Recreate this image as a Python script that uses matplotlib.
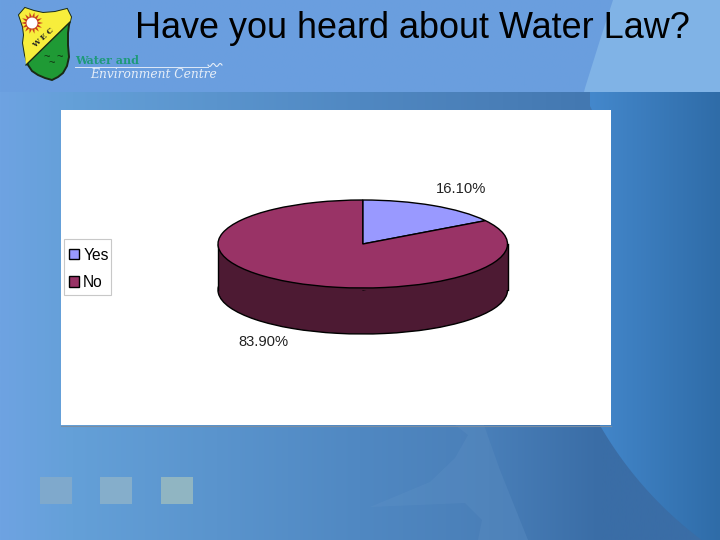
import numpy as np
import matplotlib
matplotlib.use("Agg")
import matplotlib.pyplot as plt
from matplotlib.colors import LinearSegmentedColormap
from matplotlib.patches import Circle, Polygon, Rectangle

plt.rcParams['font.family'] = ['Liberation Sans', 'DejaVu Sans']

titulo = "Have you heard about Water Law?"
respostas = ["Yes", "No"]
percentuais = [16.10, 83.90]
cores = ["#9999ff", "#993366"]

fig = plt.figure(figsize=(7.2, 5.4), dpi=100)

# fundo em coordenadas de pixel
fundo = fig.add_axes([0, 0, 1, 1])
fundo.axis("off")

gx = np.linspace(0, 1, 256).reshape(1, -1)
cmap_baixo = LinearSegmentedColormap.from_list(
    "b", [(0, "#6ea3e2"), (0.1, "#64a0d8"), (0.5, "#5088c2"), (0.68, "#4a7fb8"), (1, "#3a6fa8")])
cmap_escuro = LinearSegmentedColormap.from_list("e", ["#4a80ba", "#3a6da6", "#3a6da6"])
cmap_disco = LinearSegmentedColormap.from_list("d", ["#4488cc", "#2f6ca8"])
cmap_cima = LinearSegmentedColormap.from_list("c", ["#6a9fe0", "#6a9ede"])

fundo.imshow(gx, extent=[0, 720, 540, 92], aspect="auto", cmap=cmap_baixo, zorder=0)

# regiao escura a direita da curva do rodape
escuro = Polygon([(540, 110), (484, 425), (500, 470), (528, 540), (720, 540), (720, 110)],
                 transform=fundo.transData)
img_e = fundo.imshow(gx, extent=[480, 720, 540, 92], aspect="auto", cmap=cmap_escuro, zorder=1)
img_e.set_clip_path(escuro)

# forma clara no rodape
fundo.add_patch(Polygon([(370, 507), (430, 482), (455, 458), (468, 435), (455, 425), (484, 425),
                         (500, 470), (528, 540), (478, 540), (482, 520), (465, 503)],
                        fc="#6a9acb", ec="none", alpha=0.2, zorder=1.5))

# disco claro da direita
ys = np.linspace(420, 540, 25)
xs_arco = 930 - np.sqrt(381 ** 2 - (ys - 235) ** 2)
disco = Polygon([(583, 92), (592, 110), (600, 200)] + list(zip(xs_arco, ys)) + [(720, 540), (720, 92)],
                transform=fundo.transData)
img_d = fundo.imshow(gx, extent=[590, 720, 540, 92], aspect="auto", cmap=cmap_disco, zorder=2)
img_d.set_clip_path(disco)

# faixa do topo
fundo.imshow(gx, extent=[0, 720, 92, 0], aspect="auto", cmap=cmap_cima, zorder=2)
fundo.add_patch(Polygon([(613, 0), (600, 40), (585, 88), (584, 92), (720, 92), (720, 0)],
                        fc="#80b3e6", ec="none", zorder=2.5))
fundo.set_xlim(0, 720)
fundo.set_ylim(540, 0)

for x, c in zip([40, 100, 161], ["#7fa9cc", "#85aecb", "#90b5c2"]):
    fundo.add_patch(Rectangle((x, 477), 32, 27, fc=c, ec="none", zorder=3))

# painel branco
fundo.add_patch(Rectangle((61, 110), 550, 315, fc="white", ec="none", zorder=3))
fundo.plot([61, 611], [425.5, 425.5], color="#7a8ea3", lw=0.8, zorder=3)

# caixa da legenda
fundo.add_patch(Rectangle((64, 239), 47, 56, fc="white", ec="#c8c8c8", lw=0.8, zorder=4))

# logo
escudo = [(19, 15), (25, 8), (34, 11), (43, 13), (55, 12), (67, 9), (71, 17), (69, 25), (68, 33),
          (68, 45), (69, 57), (67, 66), (63, 73), (58, 77), (52, 80), (45, 78), (38, 75), (32, 71),
          (28, 65), (25, 55), (23, 43), (24, 35), (23, 27)]
amarelo = [(19, 15), (25, 8), (34, 11), (43, 13), (55, 12), (67, 9), (71, 17), (70, 22),
           (26, 65), (25, 55), (23, 43), (24, 35), (23, 27)]
fundo.add_patch(Polygon(escudo, fc="#1f9a35", ec="#1a2a14", lw=1.4, zorder=4))
fundo.add_patch(Polygon(amarelo, fc="#f7ee3c", ec="none", zorder=5))
fundo.plot([26, 70], [65, 22], color="#1a2a14", lw=1, zorder=6)
ang = np.linspace(0, 2 * np.pi, 28, endpoint=False)
raio = np.where(np.arange(28) % 2 == 0, 11, 6)
fundo.add_patch(Polygon(np.c_[32 + raio * np.cos(ang), 23 + raio * np.sin(ang)],
                        fc="#c8401e", ec="none", zorder=6))
fundo.add_patch(Circle((32, 23), 5.5, fc="white", ec="none", zorder=7))
fundo.text(43, 38, "W E C", fontsize=5.5, rotation=42, ha="center", va="center",
           family="DejaVu Serif", weight="bold", color="#222222", zorder=7)
for xo, yo in [(47, 57), (60, 57), (52, 63)]:
    fundo.text(xo, yo, "~", fontsize=8, ha="center", va="center", color="#123312", zorder=7)
fundo.text(75, 61, "Water and", fontsize=8, family="DejaVu Serif", weight="bold",
           color="#1f9a7a", va="center", zorder=6)
fundo.plot([75, 208], [66.5, 66.5], color="#dfeaf7", lw=0.7, zorder=6)
xs = np.linspace(208, 222, 30)
fundo.plot(xs, 65 + 1.5 * np.sin((xs - 208) * 0.9), color="#e6eef8", lw=0.8, zorder=6)
fundo.text(90, 74, "Environment Centre", fontsize=8.8, family="DejaVu Serif", style="italic",
           color="#e6eef8", va="center", zorder=6)

fundo.text(412, 29, titulo, fontsize=25.9, ha="center", va="center", color="black", zorder=6)

# pizza 3D: area do eixo em pixels
x0, x1, topo, base, prof = 218, 507.5, 200, 288, 46
ry = (base - topo) / 2
d = prof / ry
folga = 0.03
w = (x1 - x0) * (1 + folga)
yinf = -1 - d - folga * 2
ysup = 1 + folga * 2
h = (ysup - yinf) * ry

ax = fig.add_axes([((x0 + x1) / 2 - w / 2) / 720, (540 - (topo - folga * 2 * ry + h)) / 540,
                   w / 720, h / 540], zorder=5)

escuras = ["#4d1a33", "#4d1a33"]
ax.pie(percentuais, colors=escuras, startangle=90, counterclock=False, center=(0, -d),
       wedgeprops={"edgecolor": "black", "linewidth": 1.0})
ax.fill_between([-1, 1], [-d, -d], [0, 0], color="#4d1a33", lw=0, zorder=2)
ax.plot([-1, -1], [-d, 0], color="black", lw=1.0, zorder=3)
ax.plot([1, 1], [-d, 0], color="black", lw=1.0, zorder=3)
fatias, _ = ax.pie(percentuais, colors=cores, startangle=90, counterclock=False,
                   wedgeprops={"edgecolor": "black", "linewidth": 1.0, "zorder": 4})
ax.set_aspect("auto")
ax.set_xlim(-1 - folga, 1 + folga)
ax.set_ylim(yinf, ysup)
ax.axis("off")

leg = ax.legend(fatias, respostas, loc="upper left", bbox_to_anchor=(64 / 720, 1 - 243 / 540),
                bbox_transform=fig.transFigure, fontsize=11.2, frameon=False,
                borderaxespad=0, handlelength=0.65, handleheight=0.65,
                handletextpad=0.28, labelspacing=0.8, borderpad=0.3)

fundo.text(461, 189, f"{percentuais[0]:.2f}%", fontsize=10.6, ha="center", va="center",
           color="#222222", zorder=6)
fundo.text(263, 342, f"{percentuais[1]:.2f}%", fontsize=10.6, ha="center", va="center",
           color="#222222", zorder=6)

fig.savefig("out.png", dpi=100)
